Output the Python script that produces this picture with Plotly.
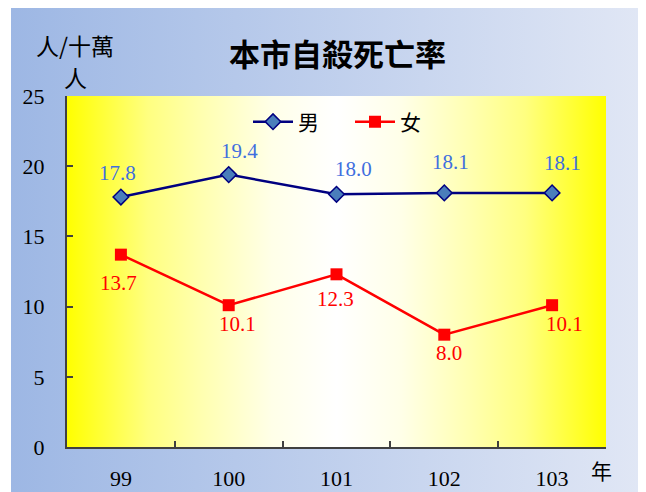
import base64
import plotly.graph_objects as go

# ---- data ----
years = ["99", "100", "101", "102", "103"]
male = [17.8, 19.4, 18.0, 18.1, 18.1]
female = [13.7, 10.1, 12.3, 8.0, 10.1]
male_name = "男"
female_name = "女"
title_text = "本市自殺死亡率"
y_unit = "人/十萬"
y_unit2 = "人"
x_unit = "年"
y_ticks = [0, 5, 10, 15, 20, 25]

# ---- style: label offsets (px) ----
male_dx = [-3, 11, 17, 6, 10]
male_dy = [24, 24, 25, 31, 30]
female_dx = [-2, 9, -1, 5, 12]
female_dy = [-28, -19, -25, -18, -19]

OFF = 8  # page body margin
W, H = 638, 484
L, T = 67 - OFF, 96 - OFF
pw, ph = 539, 351
R = W - L - pw
B = H - T - ph

SERIF = "Liberation Serif, Times New Roman, serif"
CJK = "Noto Sans CJK TC, Noto Sans CJK SC, sans-serif"


def svg_uri(stops):
    s = "".join(f'<stop offset="{o}" stop-color="{c}"/>' for o, c in stops)
    svg = (
        '<svg xmlns="http://www.w3.org/2000/svg" width="100" height="100" preserveAspectRatio="none">'
        f'<defs><linearGradient id="g" x1="0" y1="0" x2="1" y2="0">{s}</linearGradient></defs>'
        '<rect width="100" height="100" fill="url(#g)"/></svg>'
    )
    return "data:image/svg+xml;base64," + base64.b64encode(svg.encode()).decode()


bg_uri = svg_uri([(0, "#9db7e4"), (1, "#e1e7f5")])
plot_uri = svg_uri([(0, "#ffff00"), (0.15, "#ffff80"), (0.25, "#ffffb0"),
                    (0.38, "#ffffe8"), (0.5, "#ffffff"), (0.62, "#ffffe8"),
                    (0.75, "#ffffb0"), (0.85, "#ffff80"), (1, "#ffff00")])


def sx(px):  # screen x -> paper fraction
    return (px - OFF - L) / pw


def sy(py):  # screen y -> paper fraction
    return (H - B - (py - OFF)) / ph


fig = go.Figure()
fig.add_trace(go.Scatter(
    x=years, y=male, name=male_name, mode="lines+markers",
    line=dict(color="#000080", width=2.5),
    marker=dict(symbol="diamond", size=12, color="#4a7ebb",
                line=dict(color="#000080", width=1.5)),
    legend="legend",
))
fig.add_trace(go.Scatter(
    x=years, y=female, name=female_name, mode="lines+markers",
    line=dict(color="#ff0000", width=2.5),
    marker=dict(symbol="square", size=12, color="#ff0000",
                line=dict(color="#ff0000", width=0)),
    legend="legend2",
))

annotations = []
for i, v in enumerate(male):
    annotations.append(dict(x=i, y=v, xref="x", yref="y", text=f"{v:.1f}",
                            showarrow=False, xanchor="center", yanchor="middle",
                            xshift=male_dx[i], yshift=male_dy[i],
                            font=dict(family=SERIF, size=21, color="#3f6fdf")))
for i, v in enumerate(female):
    annotations.append(dict(x=i, y=v, xref="x", yref="y", text=f"{v:.1f}",
                            showarrow=False, xanchor="center", yanchor="middle",
                            xshift=female_dx[i], yshift=female_dy[i],
                            font=dict(family=SERIF, size=21, color="#ff0000")))

txt = dict(xref="paper", yref="paper", showarrow=False,
           xanchor="center", yanchor="middle")
annotations += [
    dict(txt, x=sx(337), y=sy(52), text=f"<b>{title_text}</b>",
         font=dict(family=CJK, size=31, color="#000000")),
    dict(txt, x=sx(75), y=sy(45), text=y_unit,
         font=dict(family=CJK, size=23, color="#000000")),
    dict(txt, x=sx(75), y=sy(77), text=y_unit2,
         font=dict(family=CJK, size=23, color="#000000")),
    dict(txt, x=sx(601), y=sy(470), text=x_unit,
         font=dict(family=CJK, size=21, color="#000000")),
]

leg = dict(orientation="h", xanchor="left", yanchor="middle",
           bgcolor="rgba(0,0,0,0)", itemwidth=40,
           font=dict(family=CJK, size=21, color="#000000"))

fig.update_layout(
    width=W, height=H,
    margin=dict(l=L, r=R, t=T, b=B, autoexpand=False),
    paper_bgcolor="#ffffff",
    plot_bgcolor="rgba(0,0,0,0)",
    showlegend=True,
    legend=dict(leg, x=sx(248), y=sy(122)),
    legend2=dict(leg, x=sx(350), y=sy(122)),
    annotations=annotations,
    images=[
        dict(source=bg_uri, xref="paper", yref="paper",
             x=sx(11), y=sy(8),
             sizex=(646 - 11) / pw, sizey=(492 - 8) / ph,
             xanchor="left", yanchor="top", sizing="stretch", layer="below"),
        dict(source=plot_uri, xref="paper", yref="paper",
             x=0, y=1, sizex=1, sizey=1,
             xanchor="left", yanchor="top", sizing="stretch", layer="below"),
    ],
    xaxis=dict(type="category", range=[-0.5, 4.5], tickson="boundaries",
               automargin=False,
               ticks="inside", ticklen=6, tickwidth=1.5, tickcolor="#404040",
               showline=True, linecolor="#404040", linewidth=2,
               showgrid=False, zeroline=False, ticklabelstandoff=11,
               tickfont=dict(family=SERIF, size=22, color="#000000")),
    yaxis=dict(range=[0, 25], tickvals=y_ticks, automargin=False,
               ticks="inside", ticklen=6, tickwidth=1.5, tickcolor="#404040",
               showline=True, linecolor="#404040", linewidth=2,
               showgrid=False, zeroline=False, ticklabelstandoff=16,
               tickfont=dict(family=SERIF, size=22, color="#000000")),
)

fig.write_html("out.html")
